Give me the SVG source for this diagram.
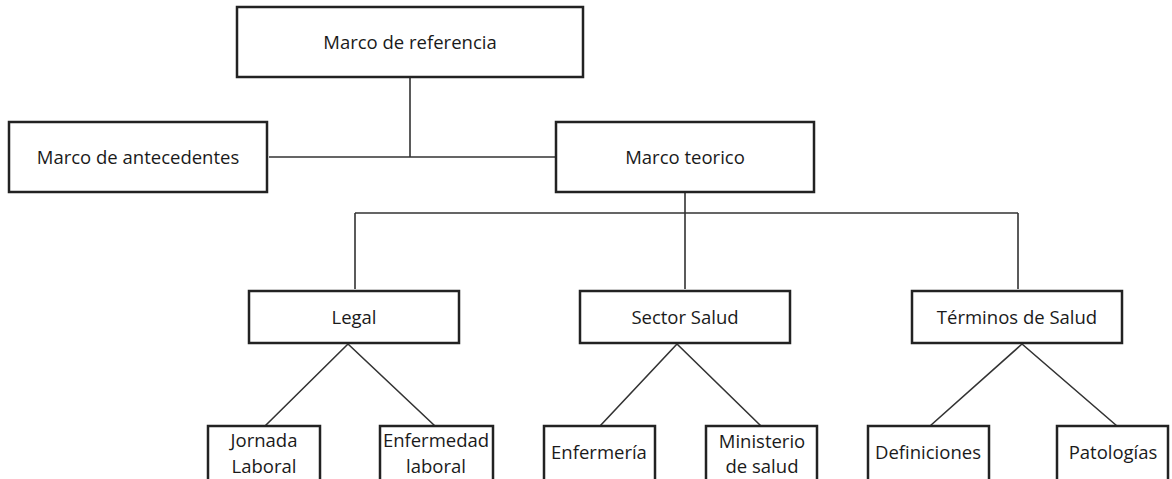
<svg xmlns="http://www.w3.org/2000/svg" width="1172" height="479" viewBox="0 0 1172 479">
<style>
.box{fill:#fff;stroke:#222;stroke-width:2.5}
.lbl{font-family:"Open Sans","Noto Sans",sans-serif;font-size:18.5px;fill:#1a1a1a;text-anchor:middle;dominant-baseline:central}
.con{stroke:#333;stroke-width:1.6;fill:none}
</style>
<rect width="1172" height="479" fill="#fff"/>
<g id="connectors">
<path class="con" d="M410 78 V157 M269 157 H555"/>
<path class="con" d="M685 193 V289 M355 213 H1018 M355 213 V289 M1018 213 V289"/>
<path class="con" d="M348 344 L265 426 M348 344 L435 426"/>
<path class="con" d="M677 344 L600 426 M677 344 L761 426"/>
<path class="con" d="M1022 344 L930 426 M1022 344 L1117 426"/>
</g>
<g id="n-referencia"><rect class="box" x="237" y="7" width="346" height="70"/><text class="lbl" x="410" y="41">Marco de referencia</text></g>
<g id="n-antecedentes"><rect class="box" x="9" y="122" width="258" height="70"/><text class="lbl" x="138" y="156">Marco de antecedentes</text></g>
<g id="n-teorico"><rect class="box" x="556" y="122" width="258" height="70"/><text class="lbl" x="685" y="156">Marco teorico</text></g>
<g id="n-legal"><rect class="box" x="249" y="291" width="210" height="52"/><text class="lbl" x="354" y="316">Legal</text></g>
<g id="n-sector"><rect class="box" x="580" y="291" width="210" height="52"/><text class="lbl" x="685" y="316">Sector Salud</text></g>
<g id="n-terminos"><rect class="box" x="912" y="291" width="210" height="52"/><text class="lbl" x="1017" y="316">Términos de Salud</text></g>
<g id="n-jornada"><rect class="box" x="208" y="426" width="112" height="58"/><text class="lbl" x="264" y="439">Jornada</text><text class="lbl" x="264" y="465">Laboral</text></g>
<g id="n-enfermedad"><rect class="box" x="380" y="426" width="113" height="58"/><text class="lbl" x="436" y="439">Enfermedad</text><text class="lbl" x="436" y="465">laboral</text></g>
<g id="n-enfermeria"><rect class="box" x="544" y="426" width="111" height="58"/><text class="lbl" x="599" y="451">Enfermería</text></g>
<g id="n-ministerio"><rect class="box" x="706" y="426" width="111" height="58"/><text class="lbl" x="762" y="440">Ministerio</text><text class="lbl" x="762" y="465">de salud</text></g>
<g id="n-definiciones"><rect class="box" x="868" y="426" width="121" height="58"/><text class="lbl" x="928" y="451">Definiciones</text></g>
<g id="n-patologias"><rect class="box" x="1057" y="426" width="111" height="58"/><text class="lbl" x="1113" y="451">Patologías</text></g>
</svg>
